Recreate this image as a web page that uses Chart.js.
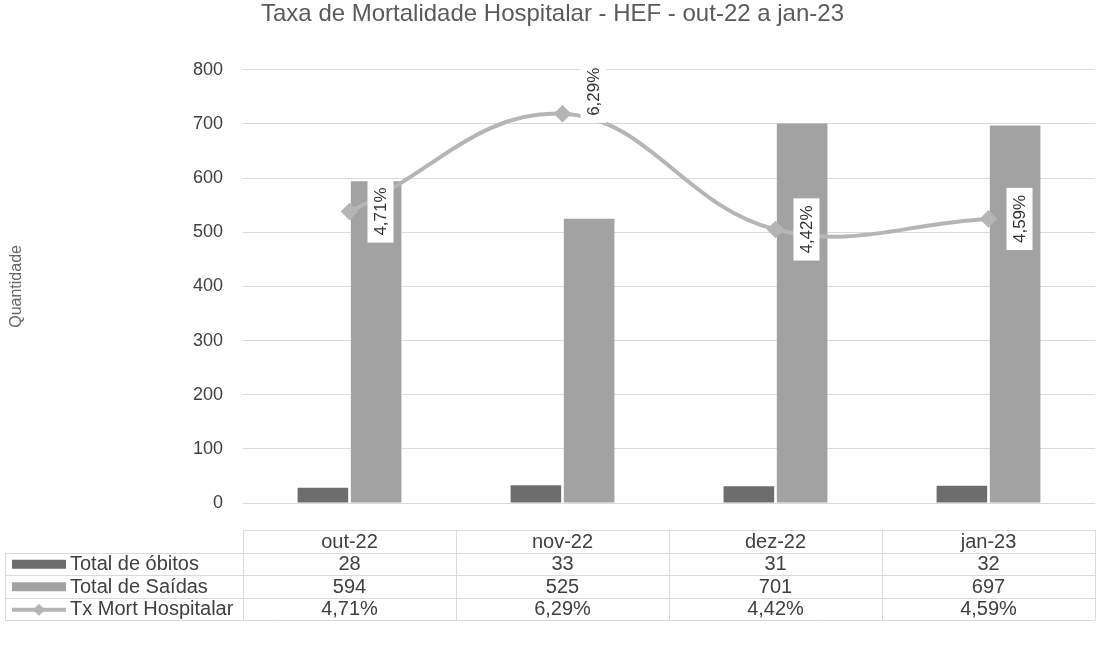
<!DOCTYPE html>
<html>
<head>
<meta charset="utf-8">
<script src="https://cdn.jsdelivr.net/npm/chart.js@4/dist/chart.umd.min.js"></script>
<style>
  body { margin: 0; background: #fff; }
  #wrap { width: 1105px; height: 648px; }
</style>
</head>
<body>
<div id="wrap"><canvas id="mort" width="1105" height="648"></canvas></div>
<script>
var months = ['out-22', 'nov-22', 'dez-22', 'jan-23'];
var obitos = [28, 33, 31, 32];
var saidas = [594, 525, 701, 697];
var txMort = [4.71, 6.29, 4.42, 4.59];
var yTicks = [0, 100, 200, 300, 400, 500, 600, 700, 800];

var FONT = "'Liberation Sans', Arial, sans-serif";
var cObitos = '#6d6d6d', cSaidas = '#a2a2a2', cLinha = '#b5b5b5';
var labelShiftY = [0, -22, 0, 0];

function pct(v) {
    return v.toFixed(2).replace('.', ',') + '%';
}

// rotated % labels next to the line points
var lineLabels = {
    id: 'lineLabels',
    afterDatasetsDraw: function(chart) {
        var ctx = chart.ctx;
        var meta = chart.getDatasetMeta(2);
        ctx.save();
        ctx.font = '17px ' + FONT;
        meta.data.forEach(function(pt, i) {
            var txt = pct(txMort[i]);
            var w = ctx.measureText(txt).width;
            var cx = pt.x + 31, cy = pt.y + labelShiftY[i];
            ctx.save();
            ctx.translate(cx, cy);
            ctx.rotate(-Math.PI / 2);
            ctx.fillStyle = '#fff';
            ctx.fillRect(-w / 2 - 7, -13, w + 14, 26);
            ctx.fillStyle = '#333';
            ctx.textAlign = 'center';
            ctx.textBaseline = 'middle';
            ctx.fillText(txt, 0, 1);
            ctx.restore();
        });
        ctx.restore();
    }
};

// data table under the plot
var dataTable = {
    id: 'dataTable',
    afterDraw: function(chart) {
        var ctx = chart.ctx, area = chart.chartArea, x = chart.scales.x;
        var top = 530, rowH = 22.5, left = 5, right = area.right;
        var colW = (area.right - area.left) / months.length;
        var rows = [
            { name: 'Total de óbitos', vals: obitos.map(String), color: cObitos, kind: 'bar' },
            { name: 'Total de Saídas', vals: saidas.map(String), color: cSaidas, kind: 'bar' },
            { name: 'Tx Mort Hospitalar', vals: txMort.map(pct), color: cLinha, kind: 'line' }
        ];
        ctx.save();
        ctx.strokeStyle = '#dadada';
        ctx.lineWidth = 1;
        ctx.beginPath();
        ctx.moveTo(area.left, top + 0.5); ctx.lineTo(right, top + 0.5);
        for (var r = 1; r <= 4; r++) {
            var yy = Math.round(top + r * rowH) + 0.5;
            ctx.moveTo(left, yy); ctx.lineTo(right, yy);
        }
        ctx.moveTo(left + 0.5, top + rowH); ctx.lineTo(left + 0.5, top + 4 * rowH);
        for (var c = 0; c <= months.length; c++) {
            var xx = Math.round(area.left + c * colW) + 0.5;
            ctx.moveTo(xx, top); ctx.lineTo(xx, top + 4 * rowH);
        }
        ctx.stroke();

        ctx.font = '20px ' + FONT;
        ctx.fillStyle = '#404040';
        ctx.textBaseline = 'middle';
        ctx.textAlign = 'center';
        months.forEach(function(m, i) {
            ctx.fillText(m, x.getPixelForValue(i), top + rowH / 2 + 1);
        });
        rows.forEach(function(row, r) {
            var cy = top + (r + 1.5) * rowH + 1;
            if (row.kind === 'bar') {
                ctx.fillStyle = row.color;
                ctx.fillRect(12, cy - 5, 54, 9);
            } else {
                ctx.strokeStyle = row.color;
                ctx.lineWidth = 4;
                ctx.beginPath(); ctx.moveTo(12, cy); ctx.lineTo(66, cy); ctx.stroke();
                ctx.fillStyle = row.color;
                ctx.beginPath();
                ctx.moveTo(39, cy - 6); ctx.lineTo(45, cy); ctx.lineTo(39, cy + 6); ctx.lineTo(33, cy);
                ctx.closePath(); ctx.fill();
            }
            ctx.fillStyle = '#404040';
            ctx.textAlign = 'left';
            ctx.fillText(row.name, 70, cy);
            ctx.textAlign = 'center';
            row.vals.forEach(function(v, i) {
                ctx.fillText(v, x.getPixelForValue(i), cy);
            });
        });
        ctx.restore();
    }
};

new Chart(document.getElementById('mort'), {
    type: 'bar',
    data: {
        labels: months,
        datasets: [{
            label: 'Total de óbitos',
            data: obitos,
            backgroundColor: cObitos,
            categoryPercentage: 0.5,
            barPercentage: 0.95,
            yAxisID: 'y',
            order: 1
        }, {
            label: 'Total de Saídas',
            data: saidas,
            backgroundColor: cSaidas,
            categoryPercentage: 0.5,
            barPercentage: 0.95,
            yAxisID: 'y',
            order: 2
        }, {
            label: 'Tx Mort Hospitalar',
            type: 'line',
            data: txMort,
            borderColor: cLinha,
            backgroundColor: cLinha,
            borderWidth: 4,
            tension: 0.4,
            pointStyle: 'rectRot',
            pointRadius: 6,
            fill: false,
            yAxisID: 'y1',
            order: 0
        }]
    },
    options: {
        responsive: false,
        animation: false,
        layout: { padding: { left: 0, right: 0, top: 0, bottom: 145 } },
        scales: {
            x: { display: false },
            y: {
                min: 0,
                max: 800,
                afterBuildTicks: function(s) { s.ticks = yTicks.map(function(v) { return { value: v }; }); },
                afterFit: function(s) { s.width = 243; },
                border: { display: false },
                grid: { color: '#dadada', drawTicks: false },
                ticks: { color: '#404040', padding: 20, font: { family: FONT, size: 18 } },
                title: {
                    display: true,
                    text: 'Quantidade',
                    color: '#666',
                    font: { family: FONT, size: 16 },
                    padding: { top: 7, bottom: 0 }
                }
            },
            y1: { display: false, min: 0, max: 7 }
        },
        plugins: {
            legend: { display: false },
            tooltip: { enabled: false },
            title: {
                display: true,
                text: 'Taxa de Mortalidade Hospitalar - HEF - out-22 a jan-23',
                color: '#5a5a5a',
                font: { family: FONT, size: 24, weight: 'normal' },
                padding: { top: 0, bottom: 41 }
            }
        }
    },
    plugins: [lineLabels, dataTable]
});
</script>
</body>
</html>
